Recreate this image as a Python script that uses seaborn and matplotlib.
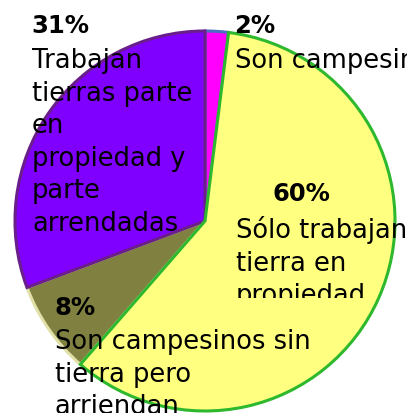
import matplotlib
matplotlib.use("Agg")
import matplotlib.pyplot as plt
import seaborn as sns
from matplotlib.patches import Rectangle

sns.set_theme(style="white")
plt.rcParams['font.family'] = ['DejaVu Sans']
plt.rcParams['text.color'] = 'black'

# Data (clockwise from 12 o'clock)
categories = ["Son campesinos", "Sólo trabajan tierra en propiedad",
              "Son campesinos sin tierra pero arriendan",
              "Trabajan tierras parte en propiedad y parte arrendadas"]
values = [2, 60, 8, 31]
pct_labels = ["2%", "60%", "8%", "31%"]
text_labels = ["Son campesinos", "Sólo trabajan\ntierra en\npropiedad",
               "Son campesinos sin\ntierra pero\narriendan",
               "Trabajan\ntierras parte\nen\npropiedad y\nparte\narrendadas"]
colors = ["#FF00FF", "#FFFF80", "#808040", "#8000FF"]
edge_colors = ["#4A6FC0", "#2EB82E", "#E0E0A8", "#6A1E8A"]

W, H = 407, 414
fig = plt.figure(figsize=(W / 100, H / 100), dpi=100)
ax = fig.add_axes([0, 0, 1, 1])

cx, cy, r = 205, H - 222, 190
wedges, _ = ax.pie(values, colors=colors, startangle=90, counterclock=False,
                   center=(cx, cy), radius=r,
                   wedgeprops=dict(linewidth=2.2))
for w, ec in zip(wedges, edge_colors):
    w.set_edgecolor(ec)
wedges[1].set_zorder(3)

ax.set_xlim(0, W)
ax.set_ylim(0, H)
ax.set_aspect('auto')
ax.axis('off')

fs = 18.5
pfs = 17.5
ls = 1.33
tc = 'black'

def Y(p):
    return H - p

# 31%
ax.text(31, Y(33), pct_labels[3], fontsize=pfs, fontweight='bold', va='baseline', ha='left', zorder=5, color=tc)
ax.text(32, Y(48), text_labels[3], fontsize=fs, va='top', ha='left', linespacing=ls, zorder=5, color=tc)

# 2%
ax.text(234, Y(33), pct_labels[0], fontsize=pfs, fontweight='bold', va='baseline', ha='left', zorder=5, color=tc)
ax.text(235, Y(48), text_labels[0], fontsize=fs, va='top', ha='left', linespacing=ls, zorder=5, color=tc)

# 60%
ax.text(272, Y(201), pct_labels[1], fontsize=pfs, fontweight='bold', va='baseline', ha='left', zorder=5, color=tc)
clip = Rectangle((200, Y(299)), 220, 120, transform=ax.transData, visible=False)
ax.add_patch(clip)
t60 = ax.text(236, Y(216), text_labels[1], fontsize=fs, va='top', ha='left', linespacing=ls, zorder=5, color=tc)
t60.set_clip_path(clip)
t60.set_clip_on(True)

# 8%
ax.text(54, Y(315), pct_labels[2], fontsize=pfs, fontweight='bold', va='baseline', ha='left', zorder=5, color=tc)
ax.text(55, Y(329), text_labels[2], fontsize=fs, va='top', ha='left', linespacing=ls, zorder=5, color=tc)

fig.savefig("out.png", dpi=100)
